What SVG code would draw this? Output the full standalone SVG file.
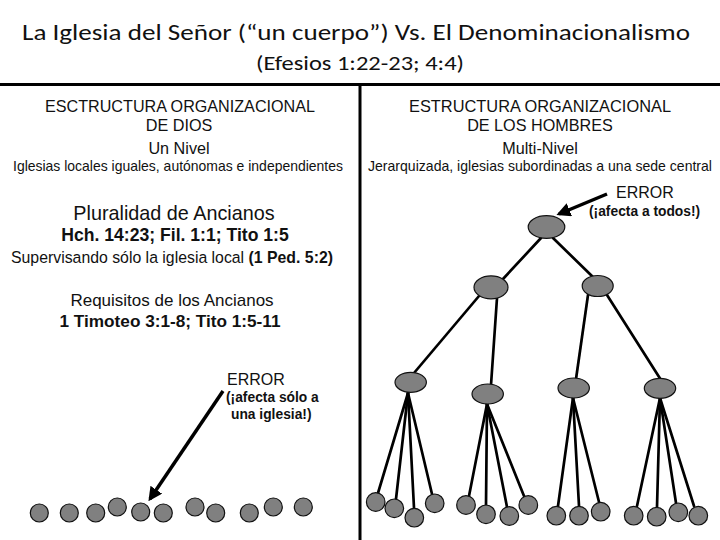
<svg xmlns="http://www.w3.org/2000/svg" width="720" height="540" viewBox="0 0 720 540">
<style>
.t{font-family:"Liberation Sans",Arial,sans-serif;fill:#111;text-anchor:middle}
.s{font-family:"Liberation Sans",Arial,sans-serif;fill:#111}
.b{font-weight:bold}
.ttl{font-family:Carlito,"Open Sans",sans-serif;fill:#111;text-anchor:middle}
.n{fill:#808080;stroke:#111;stroke-width:1.2}
.e{stroke:#000;stroke-width:2.7;fill:none;stroke-linecap:round}
.a{stroke:#000;stroke-width:3.5;fill:none}
.div{stroke:#000;stroke-width:3}
</style>
<defs>
<marker id="ah" viewBox="0 0 10 10" refX="8" refY="5" markerWidth="4" markerHeight="4" orient="auto" markerUnits="strokeWidth">
<path d="M0,0 L10,5 L0,10 z" fill="#000"/>
</marker>
</defs>
<rect width="720" height="540" fill="#fff"/>

<g id="title">
<text class="ttl" x="356" y="40" font-size="22" textLength="668" lengthAdjust="spacingAndGlyphs">La Iglesia del Señor (“un cuerpo”) Vs. El Denominacionalismo</text>
<text class="ttl" x="360" y="70" font-size="21" textLength="208" lengthAdjust="spacingAndGlyphs">(Efesios 1:22-23; 4:4)</text>
</g>

<g id="dividers">
<line class="div" x1="0" y1="84.5" x2="720" y2="84.5"/>
<line class="div" x1="360" y1="84" x2="360" y2="540"/>
</g>

<g id="left-header">
<text class="t" x="180" y="112" font-size="16.2" textLength="270" lengthAdjust="spacingAndGlyphs">ESCTRUCTURA ORGANIZACIONAL</text>
<text class="t" x="179" y="131" font-size="16.2">DE DIOS</text>
<text class="t" x="179" y="154" font-size="16.2">Un Nivel</text>
<text class="t" x="178" y="171" font-size="14.3" textLength="330" lengthAdjust="spacingAndGlyphs">Iglesias locales iguales, autónomas e independientes</text>
</g>

<g id="right-header">
<text class="t" x="540" y="112" font-size="16.2" textLength="262" lengthAdjust="spacingAndGlyphs">ESTRUCTURA ORGANIZACIONAL</text>
<text class="t" x="540" y="131" font-size="16.2">DE LOS HOMBRES</text>
<text class="t" x="540" y="154" font-size="16.2">Multi-Nivel</text>
<text class="t" x="540" y="171" font-size="14.3" textLength="344" lengthAdjust="spacingAndGlyphs">Jerarquizada, iglesias subordinadas a una sede central</text>
</g>

<g id="left-body">
<text class="t" x="174" y="220" font-size="19.8">Pluralidad de Ancianos</text>
<text class="t b" x="175" y="241" font-size="17.6">Hch. 14:23; Fil. 1:1; Tito 1:5</text>
<text class="t" x="172" y="262.5" font-size="16.3" textLength="322" lengthAdjust="spacingAndGlyphs">Supervisando sólo la iglesia local <tspan class="b">(1 Ped. 5:2)</tspan></text>
<text class="t" x="172" y="306" font-size="17">Requisitos de los Ancianos</text>
<text class="t b" x="170" y="326.5" font-size="17.2">1 Timoteo 3:1-8; Tito 1:5-11</text>
</g>

<g id="left-error">
<text class="s" x="227" y="385" font-size="16">ERROR</text>
<text class="s b" x="226" y="402" font-size="13.8">(¡afecta sólo a</text>
<text class="s b" x="231" y="419" font-size="13.8">una iglesia!)</text>
</g>

<g id="right-error">
<text class="s" x="616" y="198" font-size="16">ERROR</text>
<text class="s b" x="589" y="216" font-size="13.8">(¡afecta a todos!)</text>
</g>

<g id="connectors">
<line class="a" x1="223" y1="391" x2="150" y2="499" marker-end="url(#ah)"/>
<line class="a" x1="607" y1="194" x2="559" y2="214" marker-end="url(#ah)"/>
<line class="e" x1="541" y1="238" x2="503" y2="279"/>
<line class="e" x1="553" y1="238" x2="594" y2="278"/>
<line class="e" x1="479" y1="296" x2="414" y2="373"/>
<line class="e" x1="497" y1="298" x2="491" y2="385"/>
<line class="e" x1="588" y1="295" x2="576" y2="379"/>
<line class="e" x1="607" y1="295" x2="661" y2="380"/>
<line class="e" x1="408" y1="393" x2="378" y2="493"/>
<line class="e" x1="408" y1="393" x2="396" y2="499"/>
<line class="e" x1="408" y1="393" x2="414" y2="508"/>
<line class="e" x1="408" y1="393" x2="432" y2="494"/>
<line class="e" x1="487" y1="404" x2="469" y2="496"/>
<line class="e" x1="487" y1="404" x2="486" y2="505"/>
<line class="e" x1="487" y1="404" x2="507" y2="507"/>
<line class="e" x1="487" y1="404" x2="524" y2="496"/>
<line class="e" x1="573" y1="398" x2="558" y2="506"/>
<line class="e" x1="573" y1="398" x2="579" y2="506"/>
<line class="e" x1="573" y1="398" x2="599" y2="502"/>
<line class="e" x1="660" y1="398" x2="637" y2="506"/>
<line class="e" x1="660" y1="398" x2="657" y2="507"/>
<line class="e" x1="660" y1="398" x2="676" y2="503"/>
<line class="e" x1="660" y1="398" x2="694" y2="506"/>
</g>

<g id="left-churches">
<circle class="n" cx="39.3" cy="513" r="9"/>
<circle class="n" cx="69.3" cy="513" r="9"/>
<circle class="n" cx="95.7" cy="513" r="9"/>
<circle class="n" cx="117.3" cy="507" r="9"/>
<circle class="n" cx="140.7" cy="512" r="9"/>
<circle class="n" cx="163.3" cy="513" r="9"/>
<circle class="n" cx="195" cy="507" r="9"/>
<circle class="n" cx="215.7" cy="513" r="9"/>
<circle class="n" cx="249.3" cy="513" r="9"/>
<circle class="n" cx="273.3" cy="507" r="9"/>
<circle class="n" cx="303.3" cy="507" r="9"/>
</g>

<g id="sede-central"><ellipse class="n" cx="546.5" cy="227" rx="18.3" ry="11.3"/></g>
<g id="nivel2-izq"><ellipse class="n" cx="491" cy="287.3" rx="17" ry="11.5"/></g>
<g id="nivel2-der"><ellipse class="n" cx="597.7" cy="286" rx="15.5" ry="10.5"/></g>
<g id="nivel3-1"><ellipse class="n" cx="410.7" cy="382.3" rx="15.7" ry="10"/></g>
<g id="nivel3-2"><ellipse class="n" cx="487.7" cy="394" rx="15.7" ry="10"/></g>
<g id="nivel3-3"><ellipse class="n" cx="573.7" cy="388" rx="15.7" ry="10"/></g>
<g id="nivel3-4"><ellipse class="n" cx="660" cy="388.3" rx="15.7" ry="10"/></g>

<g id="hojas-1">
<circle class="n" cx="375.7" cy="502" r="9.3"/>
<circle class="n" cx="394.3" cy="508.3" r="9.3"/>
<circle class="n" cx="414.3" cy="517.7" r="9.3"/>
<circle class="n" cx="434.7" cy="503.3" r="9.3"/>
</g>
<g id="hojas-2">
<circle class="n" cx="466" cy="505" r="9.3"/>
<circle class="n" cx="486" cy="514.3" r="9.3"/>
<circle class="n" cx="509.3" cy="516" r="9.3"/>
<circle class="n" cx="528.3" cy="505" r="9.3"/>
</g>
<g id="hojas-3">
<circle class="n" cx="556.3" cy="515.7" r="9.3"/>
<circle class="n" cx="579" cy="515.7" r="9.3"/>
<circle class="n" cx="600.7" cy="511.7" r="9.3"/>
</g>
<g id="hojas-4">
<circle class="n" cx="633.7" cy="515.7" r="9.3"/>
<circle class="n" cx="656.7" cy="516.7" r="9.3"/>
<circle class="n" cx="678.3" cy="512.3" r="9.3"/>
<circle class="n" cx="698.3" cy="515.7" r="9.3"/>
</g>
</svg>
